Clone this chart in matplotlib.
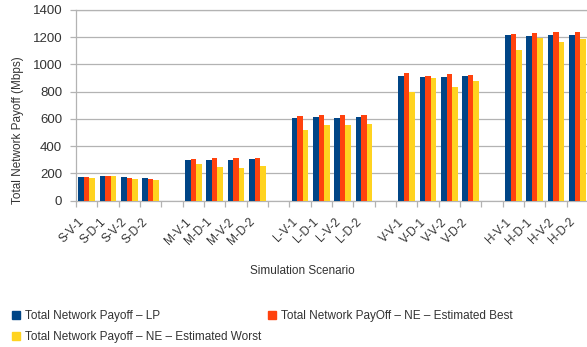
import matplotlib
matplotlib.use("Agg")
import matplotlib.pyplot as plt
from matplotlib.patches import Patch

plt.rcParams['font.family'] = ['Liberation Sans', 'DejaVu Sans']

groups = ["S", "M", "L", "V", "H"]
scenarios = ["V-1", "D-1", "V-2", "D-2"]
categories = [f"{g}-{s}" for g in groups for s in scenarios]

payoff_lp = [174, 181, 176, 164,
             301, 301, 298, 306,
             607, 612, 609, 612,
             915, 908, 906, 913,
             1214, 1207, 1216, 1219]
payoff_ne_best = [174, 181, 169, 156,
                  303, 311, 311, 313,
                  619, 626, 626, 626,
                  935, 918, 928, 923,
                  1221, 1228, 1236, 1236]
payoff_ne_worst = [166, 178, 156, 152,
                   269, 245, 240, 257,
                   516, 553, 556, 565,
                   798, 901, 835, 881,
                   1104, 1192, 1167, 1185]

series_names = ["Total Network Payoff \u2013 LP",
                "Total Network PayOff \u2013 NE \u2013 Estimated Best",
                "Total Network Payoff \u2013 NE \u2013 Estimated Worst"]
colors = ["#004586", "#ff420e", "#ffd320"]

W, H = 587, 347
fig = plt.figure(figsize=(W / 100, H / 100), dpi=100)
ax = fig.add_axes([76 / W, 1 - 200.7 / H, 512 / W, 190.7 / H])

# each group of four scenarios is followed by one empty slot
slots = [gi * 5 + si for gi in range(len(groups)) for si in range(len(scenarios))]
bw = 0.26
for k, (vals, col) in enumerate(zip([payoff_lp, payoff_ne_best, payoff_ne_worst], colors)):
    ax.bar([s + (k - 1) * bw for s in slots], vals, width=bw, color=col, zorder=3)

ax.set_xlim(-0.5, 23.5)
ax.set_ylim(0, 1400)
ax.set_yticks(range(0, 1401, 200))
ax.yaxis.grid(True, color="#b3b3b3", linewidth=0.9, zorder=0)
ax.set_axisbelow(True)

ax.set_xticks(slots)
ax.set_xticklabels(categories, rotation=45, ha="right", va="top", fontsize=8.5, color="#333333")
ax.set_xticks([x - 0.5 for x in range(25)], minor=True)
ax.tick_params(axis="x", which="major", length=0, pad=11)
ax.tick_params(axis="x", which="minor", length=4, color="#b3b3b3", width=0.9)
ax.tick_params(axis="y", length=4, color="#b3b3b3", width=0.9, labelsize=9.5, labelcolor="#333333", pad=6)

ax.spines["right"].set_visible(False)
for side in ["top", "left", "bottom"]:
    ax.spines[side].set_color("#b3b3b3")
    ax.spines[side].set_linewidth(0.9)

fig.text(18 / W, 1 - 130 / H, "Total Network Payoff (Mbps)", rotation=90,
         ha="center", va="center", fontsize=8.5, color="#333333")
fig.text(302 / W, 1 - 271 / H, "Simulation Scenario", ha="center", va="center",
         fontsize=8.5, color="#333333")

handles = [Patch(color=colors[0], label=series_names[0]),
           Patch(color=colors[2], label=series_names[2]),
           Patch(color=colors[1], label=series_names[1])]
fig.legend(handles=handles, ncol=2, loc="upper left", bbox_to_anchor=(6 / W, 1 - 304 / H),
           frameon=False, fontsize=8.5, handlelength=0.7, handleheight=0.7,
           handletextpad=0.4, columnspacing=0.6, labelspacing=0.8, borderpad=0,
           labelcolor="#333333")

fig.savefig("out.png", dpi=100)
